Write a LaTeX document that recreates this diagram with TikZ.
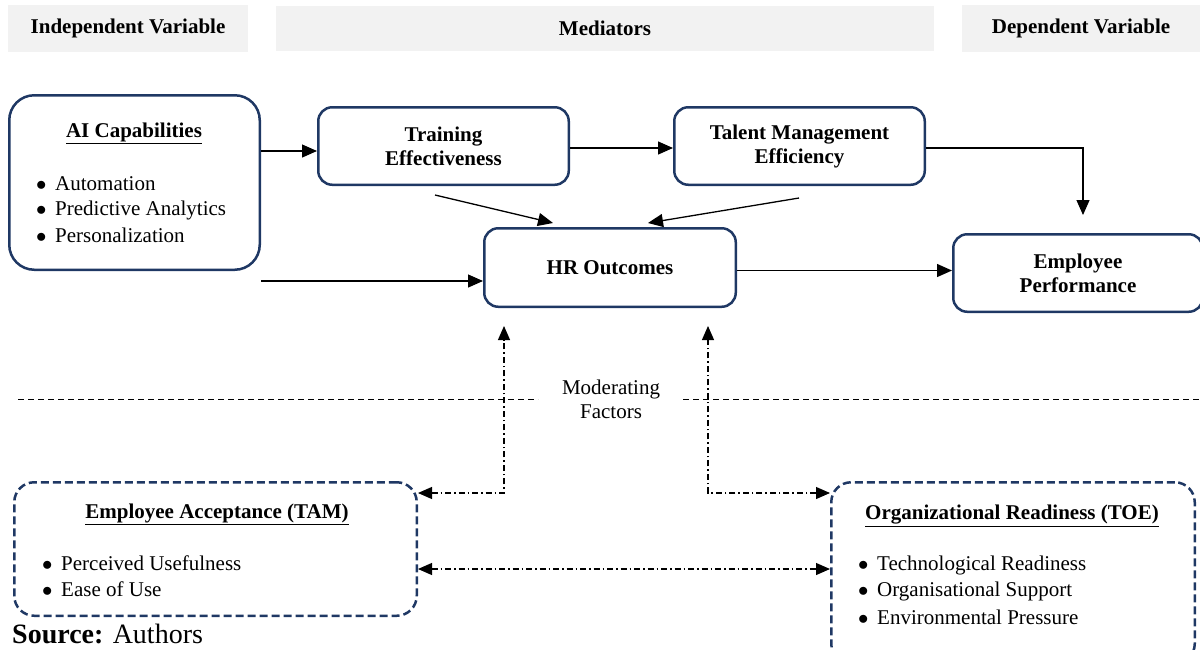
\documentclass[tikz,border=0pt]{standalone}
\usepackage{fontspec}
\setmainfont{Liberation Serif}
\usetikzlibrary{arrows.meta}
\definecolor{navy}{HTML}{1F3864}
\definecolor{hdrgray}{HTML}{F2F2F2}
\newcommand{\bfnt}{\fontsize{21}{24}\selectfont\bfseries}
\newcommand{\rmfnt}{\fontsize{21}{24}\selectfont}
\newcommand{\itm}[1]{\makebox[19pt][l]{$\bullet$}#1}
\begin{document}
\begin{tikzpicture}[x=1pt,y=-1pt,
  hdr/.style={fill=hdrgray, draw=none, inner sep=0pt, font=\bfnt},
  box/.style={draw=navy, line width=2.5pt, rounded corners=14pt, align=center, inner sep=0pt, font=\bfnt},
  dbox/.style={draw=navy, line width=2.5pt, dash pattern=on 8pt off 4pt, rounded corners=20pt, inner sep=0pt},
  txt/.style={inner sep=0pt, font=\rmfnt, align=center},
  ttl/.style={inner sep=0pt, font=\bfnt},
  item/.style={inner sep=0pt, anchor=west, font=\rmfnt},
  arr/.style={line width=1.3pt, -{Triangle[length=15pt,width=13pt]}},
  darr/.style={line width=1.1pt, dash pattern=on 6pt off 3pt on 1.5pt off 3pt, {Triangle[length=14pt,width=12pt]}-{Triangle[length=14pt,width=12pt]}},
  sep/.style={line width=1pt, dash pattern=on 6pt off 4pt}
]
\useasboundingbox (0,0) rectangle (1200,649);

% headers
\node[hdr, minimum width=240pt, minimum height=47pt] (hIV) at (128,28.5) {Independent Variable};
\node[hdr, minimum width=658pt, minimum height=45pt] (hMed) at (605,28.5) {Mediators};
\node[hdr, minimum width=238pt, minimum height=47pt] (hDV) at (1081,28.5) {Dependent Variable};

% main boxes
\node[box, rounded corners=25pt, minimum width=250.5pt, minimum height=174.5pt] (ai) at (134.5,182.5) {};
\node[ttl] (aiT) at (134,133) {\underline{AI Capabilities}};
\node[item] (ai1) at (36,184) {\itm{Automation}};
\node[item] (ai2) at (36,210) {\itm{Predictive Analytics}};
\node[item] (ai3) at (36,235) {\itm{Personalization}};

\node[box, minimum width=250.5pt, minimum height=77.5pt] (tr) at (443.5,146) {Training\\Effectiveness};
\node[box, minimum width=250.5pt, minimum height=77.5pt] (tm) at (799.5,146) {Talent Management\\Efficiency};
\node[box, minimum width=251.5pt, minimum height=78.5pt] (hr) at (610,267.5) {HR Outcomes};
\node[box, minimum width=249.5pt, minimum height=77.5pt] (ep) at (1078,273) {Employee\\Performance};

% moderator boxes
\node[dbox, minimum width=402.5pt, minimum height=133.5pt] (tam) at (215.5,549) {};
\node[ttl] (tamT) at (217,514) {\underline{Employee Acceptance (TAM)}};
\node[item] (tam1) at (42,563) {\itm{Perceived Usefulness}};
\node[item] (tam2) at (42,589) {\itm{Ease of Use}};

\node[dbox, minimum width=363.5pt, minimum height=181.5pt] (toe) at (1013,573) {};
\node[ttl] (toeT) at (1012,516) {\underline{Organizational Readiness (TOE)}};
\node[item] (toe1) at (858,565) {\itm{Technological Readiness}};
\node[item] (toe2) at (858,591) {\itm{Organisational Support}};
\node[item] (toe3) at (858,617) {\itm{Environmental Pressure}};

% moderating separator
\node[txt] (mod) at (611,399) {Moderating\\Factors};
\coordinate (s1) at (18,399);
\coordinate (s2) at (538,399);
\coordinate (s3) at (683,399);
\coordinate (s4) at (1200,399);
\draw[sep] (s1) -- (s2);
\draw[sep] (s3) -- (s4);

% solid connectors
\draw[arr] ([yshift=31.5pt]ai.east) -- ([yshift=-5pt]tr.west);
\draw[arr] ([yshift=-2pt]tr.east) -- ([yshift=-2pt]tm.west);
\coordinate (epin) at (1083,215);
\draw[arr] ([yshift=-2pt]tm.east) -| (epin);
\coordinate (trout) at (435,195);
\coordinate (hrin1) at (553,223);
\draw[arr] (trout) -- (hrin1);
\coordinate (tmout) at (799,198);
\coordinate (hrin2) at (648,223);
\draw[arr] (tmout) -- (hrin2);
\coordinate (aiout) at (261,281);
\draw[arr] (aiout) -- (aiout -| hr.west);
\coordinate (hrout) at ([yshift=-3pt]hr.east);
\draw[arr] (hrout) -- (hrout -| ep.west);

% moderating connectors
\coordinate (ltip) at (504,326);
\coordinate (lcorner) at (504,493);
\draw[darr] (tam.east |- lcorner) -- (lcorner) -- (ltip);
\coordinate (rtip) at (708,326);
\coordinate (rcorner) at (708,493);
\draw[darr] (toe.west |- rcorner) -- (rcorner) -- (rtip);
\coordinate (mid) at (620,569);
\draw[darr] (tam.east |- mid) -- (toe.west |- mid);

% source
\node[anchor=base west, inner sep=0pt, font=\fontsize{28}{30}\selectfont] (src) at (12,643) {\textbf{Source:} Authors};
\end{tikzpicture}
\end{document}
